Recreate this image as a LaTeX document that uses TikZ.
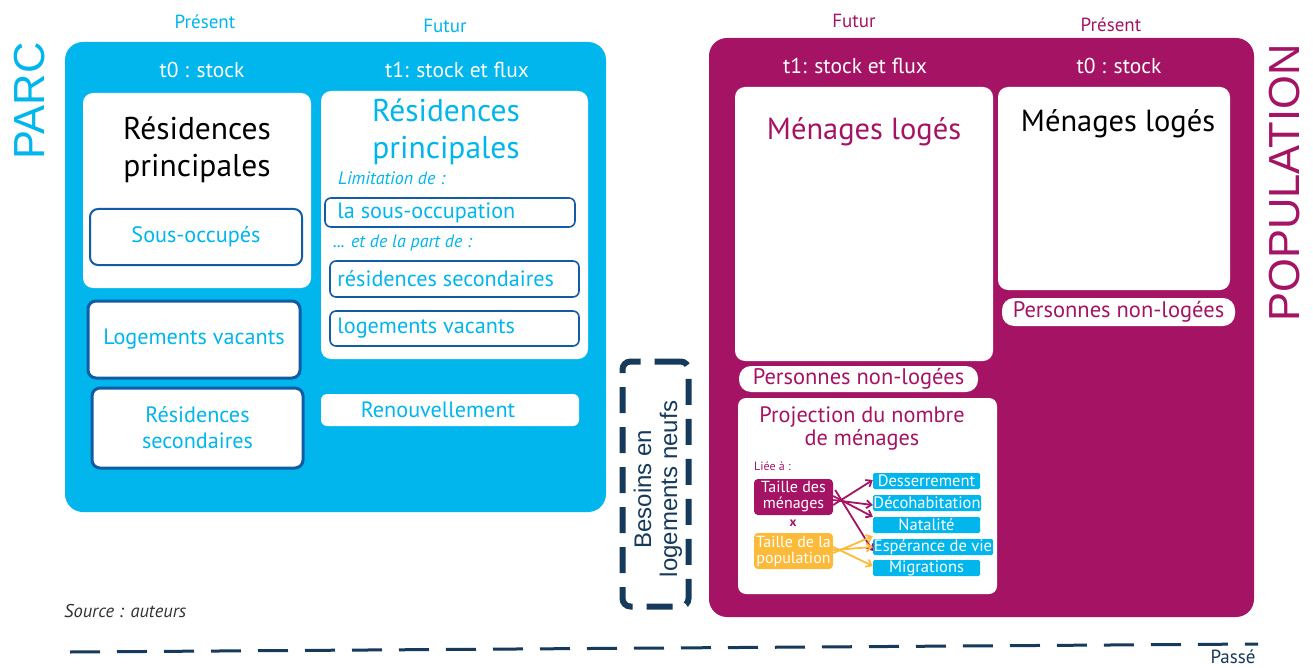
\documentclass[tikz,border=0pt]{standalone}
\usepackage{fontspec}
\setmainfont{PT Sans}
\newfontfamily\arialf{Liberation Sans}
\usetikzlibrary{arrows.meta}
\definecolor{cyanP}{RGB}{0,182,236}
\definecolor{borderB}{RGB}{18,92,165}
\definecolor{magP}{RGB}{165,20,100}
\definecolor{navyP}{RGB}{22,58,92}
\definecolor{yelP}{RGB}{251,186,58}
\tikzset{
  whitebox/.style={fill=white, rounded corners=10pt, inner sep=0, draw=none},
  framebox/.style={fill=white, draw=borderB, line width=2pt, rounded corners=8pt, inner sep=0},
  txt/.style={inner sep=0, font=\fontsize{21.5}{24}\selectfont},
  smalltxt/.style={inner sep=0, font=\fontsize{19}{22}\selectfont},
  midtxt/.style={font=\fontsize{22.2}{26}\selectfont},
  bigtxt/.style={inner sep=0, align=center, font=\fontsize{31.5}{37}\selectfont},
  pill/.style={fill=white, rounded corners=12pt, inner sep=0, text=magP, font=\fontsize{22.5}{24}\selectfont},
  cbox/.style={fill=cyanP, rounded corners=1.5pt, inner sep=0, text=white, font=\fontsize{16.5}{17}\selectfont, minimum height=16pt},
  arrM/.style={draw=magP, line width=1.8pt, -{Straight Barb[length=5pt,width=8pt]}},
  arrY/.style={draw=yelP, line width=1.8pt, -{Straight Barb[length=5pt,width=8pt]}},
}
\begin{document}
\begin{tikzpicture}[x=1pt,y=-1pt]
\useasboundingbox (0,0) rectangle (1313,668);
\fill[white] (0,0) rectangle (1313,668);

% ---------- PARC ----------
\node[fill=cyanP, rounded corners=18pt, minimum width=541pt, minimum height=470pt, inner sep=0] (parc) at (335.5,277) {};
\node[smalltxt, text=cyanP] (presL) at (205,22) {Présent};
\node[smalltxt, text=cyanP] (futL) at (445,26) {Futur};
\node[inner sep=0, text=cyanP, rotate=90, font=\arialf\fontsize{43.5}{48}\selectfont] (parcT) at (30,101) {PARC};
\node[txt, text=white] (t0L) at (202,70) {t0 : stock};
\node[txt, text=white] (t1L) at (457,70) {t1: stock et flux};

\node[whitebox, minimum width=228pt, minimum height=195pt] (wL) at (197,190.5) {};
\node[bigtxt, text=black] (rpL) at (197,150) {Résidences\\principales};
\node[framebox, minimum width=212pt, minimum height=56pt, text=cyanP, midtxt] (sous) at (196,237) {Sous-occupés};
\node[framebox, line width=3pt, minimum width=212pt, minimum height=77pt, text=cyanP, midtxt] (lvL) at (194,339.5) {Logements vacants};
\node[framebox, line width=3pt, minimum width=211pt, minimum height=80pt, text=cyanP, align=center, midtxt] (rsL) at (197.5,428) {Résidences\\secondaires};

\node[whitebox, minimum width=267pt, minimum height=268pt] (wR) at (454.5,225) {};
\node[bigtxt, text=cyanP] (rpR) at (446,132) {Résidences\\principales};
\node[inner sep=0, anchor=west, text=cyanP, font=\itshape\fontsize{18}{20}\selectfont] (limit) at (338,178) {Limitation de :};
\node[framebox, line width=1.6pt, rounded corners=6pt, minimum width=250pt, minimum height=29pt] (lsous) at (450,212.5) {};
\node[inner sep=0, anchor=west, text=cyanP, midtxt] at (lsous.west) [xshift=13pt] {la sous-occupation};
\node[inner sep=0, anchor=west, text=cyanP, font=\itshape\fontsize{18}{20}\selectfont] (partde) at (333,243) {... et de la part de :};
\node[framebox, line width=1.6pt, rounded corners=6pt, minimum width=249pt, minimum height=36pt] (rsR) at (454.5,279) {};
\node[inner sep=0, anchor=west, text=cyanP, midtxt] at (rsR.west) [xshift=8pt] {résidences secondaires};
\node[framebox, line width=1.6pt, rounded corners=6pt, minimum width=249pt, minimum height=35pt] (lvR) at (454.5,328.5) {};
\node[inner sep=0, anchor=west, text=cyanP, midtxt] at (lvR.west) [xshift=8pt] {logements vacants};
\node[whitebox, rounded corners=6pt, minimum width=258pt, minimum height=32pt, text=cyanP, midtxt] (renouv) at (450,410) {\hspace*{-24pt}Renouvellement};

% ---------- Besoins ----------
\node[draw=navyP, line width=6pt, dash pattern=on 26pt off 14pt, rounded corners=8pt, minimum width=66pt, minimum height=245pt, inner sep=0] (besoins) at (655.5,484) {};
\node[inner sep=0, rotate=90, align=center, text=navyP, font=\arialf\fontsize{24}{26}\selectfont] (besT) at (658,489) {Besoins en\\logements neufs};

% ---------- POPULATION ----------
\node[fill=magP, rounded corners=18pt, minimum width=545pt, minimum height=579pt, inner sep=0] (pop) at (981.5,327.5) {};
\node[smalltxt, text=magP] (futR) at (854,21) {Futur};
\node[smalltxt, text=magP] (presR) at (1111,25) {Présent};
\node[inner sep=0, text=magP, rotate=90, font=\arialf\fontsize{43.5}{48}\selectfont] (popT) at (1285,183) {POPULATION};
\node[txt, text=white] (t1R) at (855,66) {t1: stock et flux};
\node[txt, text=white] (t0R) at (1119,66) {t0 : stock};

\node[whitebox, minimum width=258pt, minimum height=274pt] (m1) at (864,224) {};
\node[bigtxt, font=\fontsize{30.5}{37}\selectfont, text=magP] (m1T) at (864,131.5) {Ménages logés};
\node[whitebox, minimum width=232pt, minimum height=203pt] (m0) at (1114,188.5) {};
\node[bigtxt, font=\fontsize{30.5}{37}\selectfont, text=black] (m0T) at (1118,123.5) {Ménages logés};
\node[pill, minimum width=233pt, minimum height=28pt] (pnl0) at (1118.5,312) {Personnes non-logées};
\node[pill, minimum width=239pt, minimum height=26pt] (pnl1) at (858.5,379) {Personnes non-logées};

\node[whitebox, rounded corners=8pt, minimum width=259pt, minimum height=196pt] (proj) at (867.5,496) {};
\node[inner sep=0, align=center, text=magP, font=\fontsize{22.3}{23}\selectfont] (projT) at (862,428.5) {Projection du nombre\\de ménages};
\node[inner sep=0, anchor=west, text=magP, font=\fontsize{12}{13}\selectfont] (liee) at (754,466) {Liée à :};
\node[fill=magP, rounded corners=4pt, minimum width=79pt, minimum height=36pt, inner sep=0, align=center, text=white, font=\fontsize{16}{16}\selectfont] (tdm) at (793.5,497) {Taille des\\ménages};
\node[inner sep=0, text=magP, font=\bfseries\fontsize{13}{14}\selectfont] (times) at (793,523) {x};
\node[fill=yelP, rounded corners=4pt, minimum width=79pt, minimum height=36pt, inner sep=0, align=center, text=white, font=\fontsize{16}{16}\selectfont] (tdp) at (793.5,551) {Taille de la\\population};

\node[cbox, minimum width=107pt] (dess) at (926.5,481) {Desserrement};
\node[cbox, minimum width=108pt] (deco) at (927,503) {Décohabitation};
\node[cbox, minimum width=107pt] (nata) at (926.5,525) {Natalité};
\node[cbox, minimum width=120pt] (espe) at (933,547) {Espérance de vie};
\node[cbox, minimum width=107pt] (migr) at (926.5,568) {Migrations};

\draw[arrM] ([yshift=-8pt]tdm.east) -- ([yshift=1pt]dess.west);
\draw[arrM] ([yshift=-3pt]tdm.east) -- ([yshift=-2pt]deco.west);
\draw[arrM] ([yshift=1pt]tdm.east) -- (nata.north west);
\draw[arrM] ([yshift=7pt,xshift=2pt]tdm.east) -- ([yshift=-4pt]espe.west);
\draw[arrY] ([yshift=-2pt]tdp.east) -- ([yshift=-3pt]nata.south west);
\draw[arrY] ([yshift=1pt]tdp.east) -- (espe.west);
\draw[arrY] ([yshift=4pt]tdp.east) -- ([yshift=2pt]migr.west);

% ---------- bottom ----------
\node[inner sep=0, anchor=west, text=black!80, font=\itshape\fontsize{18.5}{20}\selectfont] (source) at (64,611) {Source : auteurs};
\coordinate (dl) at (70,652);
\coordinate (dr) at (1258,644);
\draw[navyP, line width=3pt, dash pattern=on 30pt off 17pt] (dl) -- (dr);
\node[inner sep=0, text=navyP, font=\fontsize{19}{20}\selectfont] (passe) at (1233,656.5) {Passé};
\end{tikzpicture}
\end{document}
